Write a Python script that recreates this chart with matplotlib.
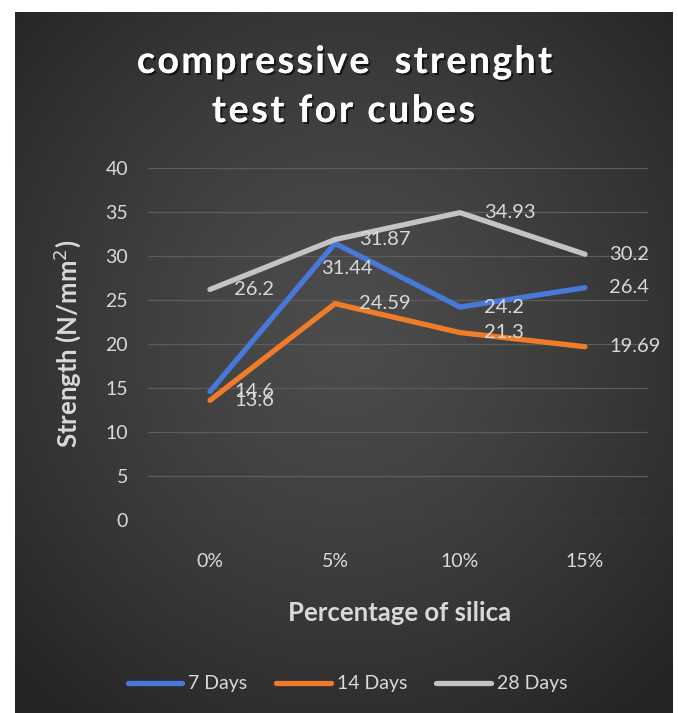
import numpy as np
import matplotlib
matplotlib.use("Agg")
import matplotlib.pyplot as plt
from matplotlib import patheffects as pe
from matplotlib import font_manager
from matplotlib.ft2font import FT2Font

# Data
categories = ["0%", "5%", "10%", "15%"]
series_names = ["7 Days", "14 Days", "28 Days"]
days_7 = [14.6, 31.44, 24.2, 26.4]
days_14 = [13.6, 24.59, 21.3, 19.69]
days_28 = [26.2, 31.87, 34.93, 30.2]
y_ticks = [0, 5, 10, 15, 20, 25, 30, 35, 40]
title_lines = ["compressive  strenght", "test for cubes"]

colors = ["#4878d8", "#f07c2a", "#c4c4c4"]
text_col = "#d9d9d9"
FONT = ["Lato", "DejaVu Sans"]

W, H = 678, 713
DPI = 100
fig = plt.figure(figsize=(W / DPI, H / DPI), dpi=DPI)
fig.patch.set_facecolor("white")

def fx(px):
    return px / W

def fy(py):
    return 1 - py / H

# Dark radial-gradient panel behind the chart
panel_l, panel_r, panel_t, panel_b = 15, 673, 12, 713
bg = fig.add_axes([fx(panel_l), fy(panel_b), fx(panel_r - panel_l), (panel_b - panel_t) / H])
bg.set_axis_off()
gx = np.linspace(-1, 1, 400)
gy = np.linspace(-1, 1, 400)
GX, GY = np.meshgrid(gx, gy)
R = np.sqrt(GX ** 2 + (GY + 0.1) ** 2) / np.sqrt(2)
R = np.clip(R, 0, 1)
c_in = np.array([0x4c, 0x4c, 0x4c]) / 255
c_out = np.array([0x24, 0x24, 0x24]) / 255
k = R[..., None] ** 1.3
img = c_in[None, None, :] * (1 - k) + c_out[None, None, :] * k
bg.imshow(img, aspect="auto", extent=[0, 1, 0, 1], origin="upper")
bg.set_xlim(0, 1)
bg.set_ylim(0, 1)

# Plot area
ax_l, ax_r, ax_t, ax_b = 147.5, 647.5, 168, 520
ax = fig.add_axes([fx(ax_l), fy(ax_b), fx(ax_r - ax_l), (ax_b - ax_t) / H])
ax.set_facecolor("none")
x = np.arange(len(categories))
ax.set_xlim(-0.5, len(categories) - 0.5)
ax.set_ylim(0, 40)
ax.set_yticks(y_ticks)
ax.set_xticks(x)
ax.set_xticklabels(categories)
for s in ax.spines.values():
    s.set_visible(False)
ax.tick_params(length=0, colors=text_col, labelsize=14)
ax.tick_params(axis="y", pad=14)
ax.tick_params(axis="x", pad=24)
for lab in ax.get_xticklabels() + ax.get_yticklabels():
    lab.set_fontfamily(FONT)
ax.yaxis.grid(True, color="#5c5c5c", linewidth=0.9)
ax.set_axisbelow(True)

all_series = [days_7, days_14, days_28]
for name, vals, col in zip(series_names, all_series, colors):
    ax.plot(x, vals, color=col, linewidth=3.8, solid_capstyle="round",
            solid_joinstyle="round", label=name, zorder=3)

# Data labels to the right of each point
label_offsets = {(0, 1): (-14, -25)}
for si, vals in enumerate(all_series):
    for i, v in enumerate(vals):
        off = label_offsets.get((si, i), (24, 0))
        ax.annotate(f"{v:g}", (x[i], v), xytext=off, textcoords="offset pixels",
                    ha="left", va="center", color=text_col, fontsize=14.5,
                    family=FONT, zorder=5)

# Letter-spaced title, drawn one glyph at a time
title_size = 27
title_path = font_manager.findfont(font_manager.FontProperties(family="Lato", weight="bold"))
ft = FT2Font(title_path)
ft.set_size(title_size, DPI)

def advances(s):
    return [ft.load_char(ord(c)).linearHoriAdvance / 65536.0 for c in s]

title_fx = [pe.withSimplePatchShadow(offset=(1.5, -1.5), shadow_rgbFace="black", alpha=0.6),
            pe.Normal()]
title_spans = [(137, 552, 73), (212, 475, 122)]
for line, (x0, x1, base) in zip(title_lines, title_spans):
    adv = advances(line)
    natural = sum(adv)
    gap = (x1 - x0 - natural) / (len(line) - 1)
    cx = x0
    for ch, a in zip(line, adv):
        if ch != " ":
            fig.text(fx(cx), fy(base), ch, ha="left", va="baseline", color="white",
                     fontsize=title_size, fontweight="bold", family=FONT,
                     path_effects=title_fx)
        cx += a + gap

# Axis titles
fig.text(fx(400), fy(613), "Percentage of silica", ha="center", va="center",
         color=text_col, fontsize=18.5, fontweight="bold", family=FONT)
fig.text(fx(67), fy(344), "Strength (N/mm$^2$)", ha="center", va="center",
         rotation=90, color=text_col, fontsize=18.5, fontweight="bold", family=FONT)

# Legend
leg = fig.legend(loc="center", bbox_to_anchor=(fx(347.5), fy(684)), ncol=3, frameon=False,
                 handlelength=2.8, handletextpad=0.3, columnspacing=1.5,
                 prop={"family": FONT, "size": 14})
for t in leg.get_texts():
    t.set_color(text_col)

fig.savefig("out.png", dpi=DPI, facecolor=fig.get_facecolor())
